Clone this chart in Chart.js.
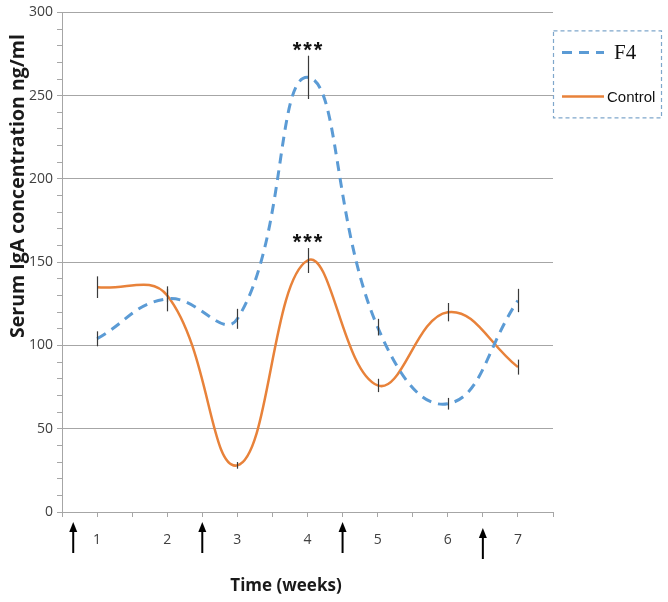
<!DOCTYPE html>
<html>
<head>
<meta charset="utf-8">
<title>Serum IgA concentration</title>
<script src="https://cdn.jsdelivr.net/npm/chart.js@4.4.0/dist/chart.umd.min.js"></script>
<style>
  html, body { margin: 0; padding: 0; background: #fff; }
  #wrap { position: relative; width: 668px; height: 602px; }
</style>
</head>
<body>
<div id="wrap"><canvas id="igaChart"></canvas></div>
<script>
// Values
const weeks = [1, 2, 3, 4, 5, 6, 7];
const f4Values = [104, 128, 116, 261, 111, 65, 127];
const f4Errors = [4.5, 7.5, 6, 13, 5, 3.5, 7];
const controlValues = [135, 130, 28, 151, 76, 120, 87];
const controlErrors = [6.5, 4, 2, 7.5, 4, 5.5, 4.5];
const f4Stars = ['', '', '', '***', '', '', ''];
const controlStars = ['', '', '', '***', '', '', ''];
const arrowWeeks = [0.66, 2.5, 4.5, 6.5];   // dosing arrows under the time axis
const seriesLabels = ['F4', 'Control'];
const yTitle = 'Serum IgA concentration ng/ml';
const xTitle = 'Time (weeks)';

const BLUE = '#5B9BD5';
const ORANGE = '#E8823A';
const GRID = '#A6A6A6';
const TEXT = '#404040';

Chart.defaults.font.family = '"Open Sans", "Liberation Sans", sans-serif';

function toPoints(values) {
    return weeks.map((w, i) => ({ x: w, y: values[i] }));
}

// Vertical error bars + significance stars
const errorBarPlugin = {
    id: 'errorBars',
    afterDatasetsDraw(chart) {
        const { ctx } = chart;
        const yScale = chart.scales.y;
        chart.data.datasets.forEach((ds, i) => {
            const meta = chart.getDatasetMeta(i);
            ds.errors.forEach((err, j) => {
                const pt = meta.data[j];
                const v = ds.data[j].y;
                const top = yScale.getPixelForValue(v + err);
                const bottom = yScale.getPixelForValue(v - err);
                ctx.save();
                ctx.strokeStyle = '#3a3a3a';
                ctx.lineWidth = 1.2;
                ctx.beginPath();
                ctx.moveTo(Math.round(pt.x) + 0.5, top);
                ctx.lineTo(Math.round(pt.x) + 0.5, bottom);
                ctx.stroke();
                if (ds.stars[j]) {
                    ctx.fillStyle = '#111';
                    ctx.font = 'bold 22px "Liberation Sans", sans-serif';
                    ctx.textAlign = 'center';
                    ctx.textBaseline = 'alphabetic';
                    ctx.letterSpacing = '2px';
                    ctx.fillText(ds.stars[j], pt.x + 1, top + 1);
                }
                ctx.restore();
            });
        });
    }
};

// Legend box, axis titles and arrows
const decorPlugin = {
    id: 'decor',
    afterDraw(chart) {
        const { ctx, chartArea } = chart;
        const xScale = chart.scales.x;
        ctx.save();

        // legend box
        const bx = chartArea.right, by = chartArea.top + 18, bw = 108, bh = 87;
        ctx.strokeStyle = '#7FA7CB';
        ctx.lineWidth = 1.2;
        ctx.setLineDash([4, 3]);
        ctx.strokeRect(bx + 0.5, by + 0.5, bw, bh);

        const rows = [
            { y: by + 22, color: BLUE, dash: [10, 7], width: 3, font: '21px "Liberation Serif", serif', tx: bx + 61 },
            { y: by + 66, color: ORANGE, dash: [], width: 2.5, font: '15px "Liberation Sans", sans-serif', tx: bx + 54 }
        ];
        rows.forEach((r, i) => {
            ctx.strokeStyle = r.color;
            ctx.lineWidth = r.width;
            ctx.setLineDash(r.dash);
            ctx.beginPath();
            ctx.moveTo(bx + 9, r.y);
            ctx.lineTo(bx + 51, r.y);
            ctx.stroke();
            ctx.fillStyle = '#111';
            ctx.font = r.font;
            ctx.textAlign = 'left';
            ctx.textBaseline = 'middle';
            ctx.fillText(seriesLabels[i], r.tx, r.y + 1);
        });
        ctx.setLineDash([]);

        // axis titles
        ctx.fillStyle = '#1a1a1a';
        ctx.textAlign = 'center';
        ctx.textBaseline = 'middle';
        ctx.font = 'bold 17px "Open Sans", sans-serif';
        ctx.fillText(xTitle, 286, 586);
        ctx.save();
        ctx.font = 'bold 19.5px "Open Sans", sans-serif';
        ctx.translate(18, 186);
        ctx.rotate(-Math.PI / 2);
        ctx.fillText(yTitle, 0, 0);
        ctx.restore();

        // arrows under the axis
        ctx.fillStyle = '#000';
        ctx.strokeStyle = '#000';
        ctx.lineWidth = 2;
        arrowWeeks.forEach((w, i) => {
            const x = xScale.getPixelForValue(w);
            const drop = i === arrowWeeks.length - 1 ? 6 : 0;
            const top = chartArea.bottom + 10 + drop;
            const bottom = chartArea.bottom + 41 + drop;
            ctx.beginPath();
            ctx.moveTo(x, top + 8);
            ctx.lineTo(x, bottom);
            ctx.stroke();
            ctx.beginPath();
            ctx.moveTo(x, top);
            ctx.lineTo(x - 4, top + 10);
            ctx.lineTo(x + 4, top + 10);
            ctx.closePath();
            ctx.fill();
        });
        ctx.restore();
    }
};

new Chart(document.getElementById('igaChart'), {
    type: 'line',
    data: {
        datasets: [{
            label: seriesLabels[0],
            data: toPoints(f4Values),
            errors: f4Errors,
            stars: f4Stars,
            borderColor: BLUE,
            borderWidth: 3,
            borderDash: [10, 7],
            tension: 0.45,
            pointRadius: 0,
            fill: false
        }, {
            label: seriesLabels[1],
            data: toPoints(controlValues),
            errors: controlErrors,
            stars: controlStars,
            borderColor: ORANGE,
            borderWidth: 2.5,
            tension: 0.42,
            pointRadius: 0,
            fill: false
        }]
    },
    options: {
        responsive: true,
        maintainAspectRatio: false,
        animation: false,
        layout: { padding: { left: 0, right: 115, top: 12, bottom: 0 } },
        plugins: {
            legend: { display: false },
            tooltip: { enabled: false }
        },
        scales: {
            x: {
                type: 'linear',
                min: 0.5,
                max: 7.5,
                afterFit: scale => { scale.height = 90; },
                border: { color: GRID, width: 1 },
                grid: { drawOnChartArea: false, tickLength: 5, tickColor: GRID },
                ticks: {
                    stepSize: 0.5,
                    autoSkip: false,
                    maxRotation: 0,
                    padding: 15,
                    color: TEXT,
                    font: { size: 14 },
                    callback: v => Number.isInteger(v) ? String(v) : ''
                }
            },
            y: {
                min: 0,
                max: 300,
                afterFit: scale => { scale.width = 62; },
                border: { color: GRID, width: 1 },
                grid: {
                    color: ctx => (ctx.tick && ctx.tick.value % 50 === 0) ? GRID : 'rgba(0,0,0,0)',
                    tickColor: GRID,
                    tickLength: 5,
                    lineWidth: 1
                },
                ticks: {
                    stepSize: 10,
                    autoSkip: false,
                    padding: 4,
                    color: TEXT,
                    font: { size: 14 },
                    callback: v => v % 50 === 0 ? String(v) : ''
                }
            }
        }
    },
    plugins: [errorBarPlugin, decorPlugin]
});
</script>
</body>
</html>
